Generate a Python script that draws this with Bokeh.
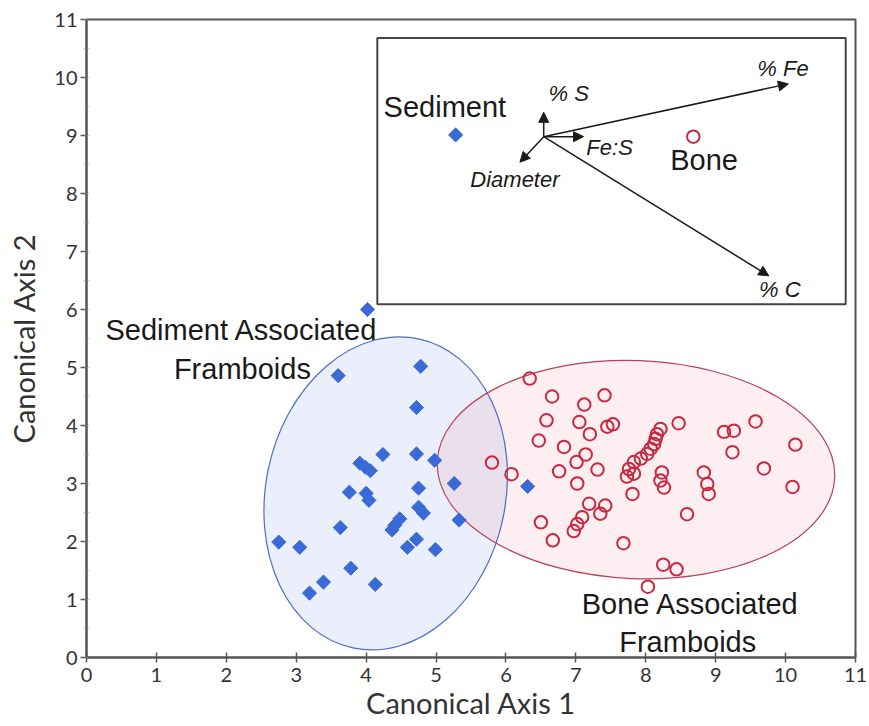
import numpy as np
from bokeh.plotting import figure
from bokeh.models import (Range1d, SingleIntervalTicker, ColumnDataSource,
                          Arrow, NormalHead)
from bokeh.core.properties import value
from bokeh.embed import file_html
from bokeh.resources import INLINE

# Canonical scores of sediment-associated framboids
sediment_x = [4.02, 4.78, 3.60, 4.72, 4.24, 4.72, 4.98, 3.91, 3.99, 4.06,
              5.26, 4.75, 3.76, 4.00, 4.04, 4.75, 4.82, 5.33, 4.48, 4.41,
              4.37, 3.63, 4.72, 4.59, 4.99, 2.75, 3.05, 3.78, 3.39, 3.19,
              4.13, 6.31]
sediment_y = [6.00, 5.02, 4.86, 4.31, 3.50, 3.51, 3.40, 3.35, 3.28, 3.22,
              3.00, 2.92, 2.85, 2.83, 2.71, 2.59, 2.49, 2.37, 2.39, 2.28,
              2.20, 2.24, 2.04, 1.90, 1.86, 1.99, 1.90, 1.54, 1.30, 1.11,
              1.26, 2.95]

# Canonical scores of bone-associated framboids
bone_x = [6.34, 6.66, 7.12, 7.41, 6.58, 7.05, 7.45, 7.53, 7.20, 6.47,
          6.83, 7.14, 7.01, 5.80, 6.76, 7.31, 6.08, 7.02, 7.19, 7.42,
          7.35, 7.09, 7.02, 6.97, 6.50, 6.67, 7.68, 8.03, 8.25, 8.44,
          8.47, 8.21, 8.16, 8.14, 8.12, 8.07, 8.02, 7.93, 7.83, 7.76,
          7.73, 7.83, 7.81, 8.23, 8.21, 8.26, 8.83, 8.88, 8.90, 9.12,
          9.26, 9.57, 9.24, 10.14, 9.69, 10.10, 8.59]
bone_y = [4.81, 4.50, 4.36, 4.52, 4.09, 4.06, 3.98, 4.02, 3.85, 3.74,
          3.63, 3.50, 3.37, 3.36, 3.21, 3.24, 3.16, 3.00, 2.65, 2.62,
          2.48, 2.42, 2.30, 2.18, 2.33, 2.02, 1.97, 1.22, 1.60, 1.52,
          4.04, 3.94, 3.85, 3.77, 3.68, 3.60, 3.51, 3.43, 3.37, 3.25,
          3.12, 3.17, 2.82, 3.19, 3.05, 2.93, 3.19, 2.99, 2.82, 3.89,
          3.91, 4.07, 3.54, 3.67, 3.26, 2.94, 2.47]

# Group ellipses: centre, full width/height, rotation (degrees)
ell_cx = [4.28, 7.86]
ell_cy = [2.83, 3.24]
ell_w = [3.43, 5.69]
ell_h = [5.45, 3.76]
ell_angle = [-12.0, -2.3]

# Biplot inset: group centroids and variable loadings relative to the origin
inset_vars = ["% Fe", "% C", "% S", "Fe:S", "Diameter"]
load_x = [3.50, 3.22, 0.00, 0.57, -0.34]
load_y = [0.91, -2.40, 0.42, 0.00, -0.44]
centroid_sed = (-1.26, 0.03)
centroid_bone = (2.14, 0.00)

W, H = 869, 726
BORDER_L, BORDER_R, BORDER_T, BORDER_B = 86, 14, 19, 69
PX_PER_UNIT_Y = (H - BORDER_T - BORDER_B) / 11.0


def lift(ys, font_px):
    # raise text so that its alphabetic baseline sits on the given y
    return [y + 0.34 * font_px / PX_PER_UNIT_Y for y in ys]


p = figure(width=W, height=H, x_range=Range1d(0, 11), y_range=Range1d(0, 11),
           output_backend="svg", toolbar_location=None,
           min_border_left=BORDER_L, min_border_right=BORDER_R,
           min_border_top=BORDER_T, min_border_bottom=BORDER_B)
p.xgrid.visible = False
p.ygrid.visible = False
p.background_fill_color = "white"
p.border_fill_color = "white"
p.outline_line_color = "#555555"
p.outline_line_width = 2

p.xaxis.ticker = SingleIntervalTicker(interval=1, num_minor_ticks=0)
p.yaxis.ticker = SingleIntervalTicker(interval=1, num_minor_ticks=2)
for ax in (p.xaxis[0], p.yaxis[0]):
    ax.axis_line_color = "#555555"
    ax.axis_line_width = 2
    ax.major_tick_line_color = "#555555"
    ax.major_tick_line_width = 1.5
    ax.minor_tick_line_color = "#777777"
    ax.major_label_text_font = "Lato"
    ax.major_label_text_font_size = "20px"
    ax.major_label_text_color = "#333333"
    ax.axis_label_text_font = "Lato"
    ax.axis_label_text_font_size = "29px"
    ax.axis_label_text_font_style = "normal"
    ax.axis_label_text_color = "#333333"

p.xaxis.major_tick_in = 5
p.xaxis.major_tick_out = 5
p.xaxis.major_label_standoff = 5
p.xaxis.axis_label = "Canonical Axis 1"
p.xaxis.axis_label_standoff = 0

p.yaxis.major_tick_in = 0
p.yaxis.major_tick_out = 6
p.yaxis.minor_tick_in = 2
p.yaxis.minor_tick_out = 2
p.yaxis.major_label_standoff = 3
p.yaxis.axis_label = "Canonical Axis 2"
p.yaxis.axis_label_standoff = 10

# Group ellipses
p.ellipse(x=[ell_cx[0]], y=[ell_cy[0]], width=[ell_w[0]], height=[ell_h[0]],
          angle=[np.radians(ell_angle[0])],
          fill_color="#3c64dc", fill_alpha=0.10, line_color="#4a6ec8", line_width=1.2)
p.ellipse(x=[ell_cx[1]], y=[ell_cy[1]], width=[ell_w[1]], height=[ell_h[1]],
          angle=[np.radians(ell_angle[1])],
          fill_color="#e0304e", fill_alpha=0.08, line_color="#b8405a", line_width=1.2)

# Framboid scores
p.scatter(sediment_x, sediment_y, marker="square", angle=np.pi / 4, size=10,
          fill_color="#3a6ad8", line_color="#3a6ad8")
p.scatter(bone_x, bone_y, marker="circle", size=12.5, fill_color=None,
          line_color="#c9283f", line_width=2)

# Group labels
big_font = value("Liberation Sans")
p.text(x=[2.22, 2.23, 8.64, 8.60], y=lift([5.47, 4.81, 0.75, 0.09], 29),
       text=["Sediment Associated", "Framboids", "Bone Associated", "Framboids"],
       text_font=big_font, text_font_size="29px", text_align="center",
       text_baseline="alphabetic", text_color="#1a1a1a")

# Inset biplot
p.quad(left=[4.16], right=[10.86], bottom=[6.09], top=[10.68],
       fill_color=None, line_color="#444444", line_width=2)

ox, oy = 6.54, 8.98
arrows = ColumnDataSource(dict(
    x0=[ox] * len(load_x), y0=[oy] * len(load_y),
    x1=[ox + dx for dx in load_x], y1=[oy + dy for dy in load_y]))
p.add_layout(Arrow(source=arrows, x_start="x0", y_start="y0", x_end="x1", y_end="y1",
                   line_color="#1a1a1a", line_width=1.5,
                   end=NormalHead(size=10, fill_color="#1a1a1a", line_color="#1a1a1a",
                                  line_width=1)))

p.scatter([ox + centroid_sed[0]], [oy + centroid_sed[1]], marker="square",
          angle=np.pi / 4, size=10, fill_color="#3a6ad8", line_color="#3a6ad8")
p.scatter([ox + centroid_bone[0]], [oy + centroid_bone[1]], marker="circle", size=12.5,
          fill_color=None, line_color="#c9283f", line_width=2)

# Variable names beside their arrows
p.text(x=[9.595, 9.62, 6.61, 7.15, 5.49], y=lift([10.03, 6.21, 9.60, 8.66, 8.12], 22),
       text=inset_vars, text_font=big_font, text_font_style="italic",
       text_font_size="22px", text_align="left", text_baseline="alphabetic",
       text_color="#1a1a1a")
p.text(x=[4.25, 8.35], y=lift([9.32, 8.40], 29), text=["Sediment", "Bone"],
       text_font=big_font, text_font_size="29px", text_align="left",
       text_baseline="alphabetic", text_color="#1a1a1a")

open("out.html", "w").write(file_html(p, INLINE))
